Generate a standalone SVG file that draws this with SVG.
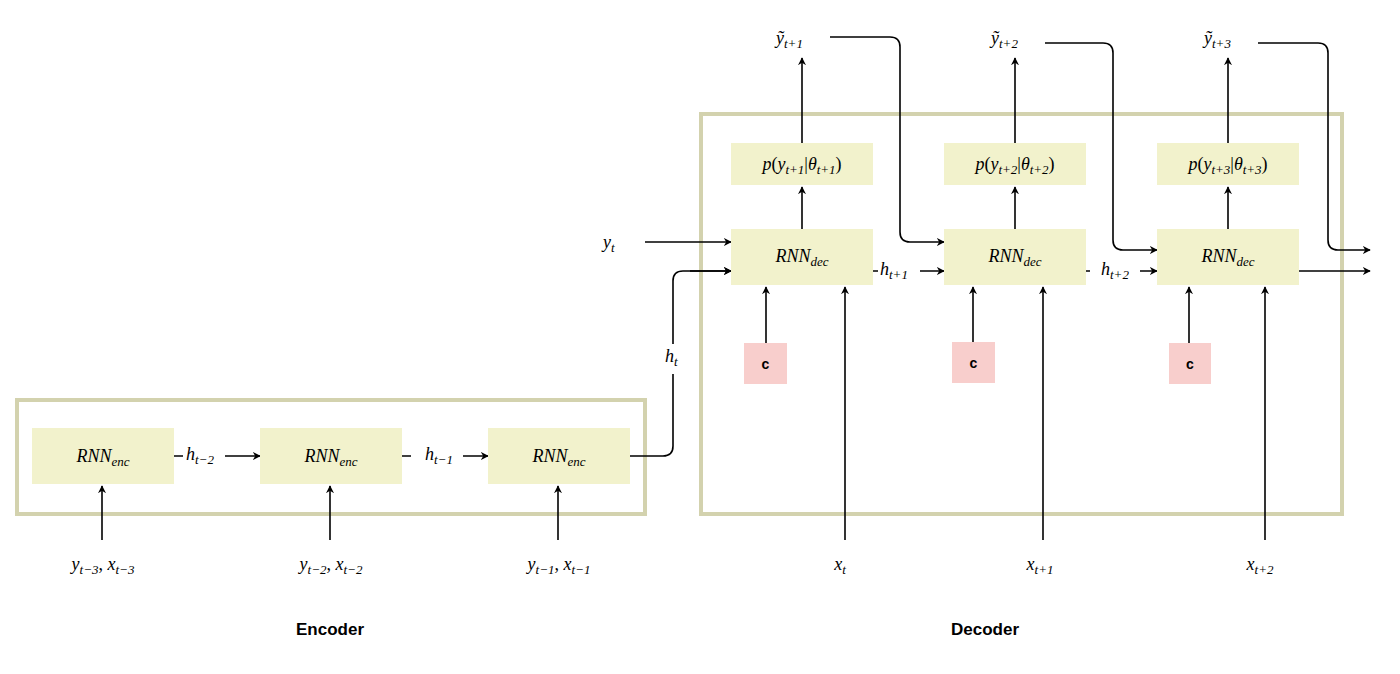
<svg xmlns="http://www.w3.org/2000/svg" width="1400" height="674" viewBox="0 0 1400 674">
<style>
.frame{fill:none;stroke:#d3d2ae;stroke-width:4}
.n{fill:#f2f2cc}
.c{fill:#f8cecc}
.e{fill:none;stroke:#000;stroke-width:1.6;marker-end:url(#a)}
.l{fill:none;stroke:#000;stroke-width:1.6}
.m{font-family:"Liberation Serif",serif;font-style:italic;font-size:18px;fill:#000}
.s{font-size:13px}
.u{font-style:normal}
.b{font-family:"Liberation Sans",Arial,sans-serif;font-weight:bold;font-size:17px}
.cc{font-family:"Liberation Sans",Arial,sans-serif;font-weight:bold;font-size:14px}
</style>
<defs><marker id="a" viewBox="0 0 10 10" refX="9" refY="5" markerWidth="8" markerHeight="8" orient="auto" markerUnits="userSpaceOnUse"><path d="M0,0 L10,5 L0,10 L3,5 z" fill="#000"/></marker></defs>
<rect class="frame" x="17" y="400" width="628" height="114"/>
<rect class="frame" x="701" y="114" width="641" height="400"/>
<g id="connectors">
<path class="e" d="M174,456 H260"/><path class="e" d="M402,456 H488"/>
<path class="l" d="M630,456 H663 Q673,456 673,446 V281 Q673,271 683,271 H731"/>
<path class="e" d="M673,271 H731" style="stroke:none"/>
<path class="e" d="M690,271 H731"/>
<path class="e" d="M645,242 H731"/>
<path class="e" d="M102,540 V486"/><path class="e" d="M330,540 V486"/><path class="e" d="M558,540 V486"/>
<path class="e" d="M873,271 H944"/><path class="e" d="M1086,271 H1157"/><path class="e" d="M1299,271 H1370"/>
<path class="e" d="M802,229 V187"/><path class="e" d="M1015,229 V187"/><path class="e" d="M1228,229 V187"/>
<path class="e" d="M802,143 V58"/><path class="e" d="M1015,143 V58"/><path class="e" d="M1228,143 V58"/>
<path class="e" d="M766,343 V287"/><path class="e" d="M973,342 V287"/><path class="e" d="M1189,343 V287"/>
<path class="e" d="M845,540 V287"/><path class="e" d="M1043,540 V287"/><path class="e" d="M1265,540 V287"/>
<path class="e" d="M830,37 H890 Q900,37 900,47 V232 Q900,242 910,242 H944"/>
<path class="e" d="M1045,43 H1103 Q1113,43 1113,53 V240 Q1113,250 1123,250 H1157"/>
<path class="e" d="M1258,43 H1318 Q1328,43 1328,53 V240 Q1328,250 1338,250 H1370"/>
</g>
<g id="enc1"><rect class="n" x="32" y="428" width="142" height="56"/><text class="m" x="103" y="462" text-anchor="middle">RNN<tspan class="s" dy="4">enc</tspan></text></g>
<g id="enc2"><rect class="n" x="260" y="428" width="142" height="56"/><text class="m" x="331" y="462" text-anchor="middle">RNN<tspan class="s" dy="4">enc</tspan></text></g>
<g id="enc3"><rect class="n" x="488" y="428" width="142" height="56"/><text class="m" x="559" y="462" text-anchor="middle">RNN<tspan class="s" dy="4">enc</tspan></text></g>
<g id="dec1"><rect class="n" x="731" y="229" width="142" height="56"/><text class="m" x="802" y="262" text-anchor="middle">RNN<tspan class="s" dy="4">dec</tspan></text></g>
<g id="dec2"><rect class="n" x="944" y="229" width="142" height="56"/><text class="m" x="1015" y="262" text-anchor="middle">RNN<tspan class="s" dy="4">dec</tspan></text></g>
<g id="dec3"><rect class="n" x="1157" y="229" width="142" height="56"/><text class="m" x="1228" y="262" text-anchor="middle">RNN<tspan class="s" dy="4">dec</tspan></text></g>
<g id="p1"><rect class="n" x="731" y="143" width="142" height="42"/><text class="m" x="802" y="170" text-anchor="middle">p<tspan class="u">(</tspan>y<tspan class="s" dy="4">t+1</tspan><tspan dy="-4" class="u">|</tspan>θ<tspan class="s" dy="4">t+1</tspan><tspan dy="-4" class="u">)</tspan></text></g>
<g id="p2"><rect class="n" x="944" y="143" width="142" height="42"/><text class="m" x="1015" y="170" text-anchor="middle">p<tspan class="u">(</tspan>y<tspan class="s" dy="4">t+2</tspan><tspan dy="-4" class="u">|</tspan>θ<tspan class="s" dy="4">t+2</tspan><tspan dy="-4" class="u">)</tspan></text></g>
<g id="p3"><rect class="n" x="1157" y="143" width="142" height="42"/><text class="m" x="1228" y="170" text-anchor="middle">p<tspan class="u">(</tspan>y<tspan class="s" dy="4">t+3</tspan><tspan dy="-4" class="u">|</tspan>θ<tspan class="s" dy="4">t+3</tspan><tspan dy="-4" class="u">)</tspan></text></g>
<g id="c1"><rect class="c" x="744" y="343" width="43" height="41"/><text class="cc" x="765.5" y="369" text-anchor="middle">c</text></g>
<g id="c2"><rect class="c" x="952" y="342" width="43" height="41"/><text class="cc" x="973.5" y="368" text-anchor="middle">c</text></g>
<g id="c3"><rect class="c" x="1169" y="343" width="42" height="41"/><text class="cc" x="1190" y="369" text-anchor="middle">c</text></g>
<g id="labels">
<rect x="183" y="446" width="42" height="22" fill="#fff"/><text class="m" x="186" y="460">h<tspan class="s" dy="4">t−2</tspan></text>
<rect x="411" y="446" width="52" height="22" fill="#fff"/><text class="m" x="425" y="460">h<tspan class="s" dy="4">t−1</tspan></text>
<rect x="663" y="344" width="22" height="30" fill="#fff"/><text class="m" x="665" y="362">h<tspan class="s" dy="4">t</tspan></text>
<rect x="878" y="261" width="42" height="26" fill="#fff"/><text class="m" x="880" y="275">h<tspan class="s" dy="4">t+1</tspan></text>
<rect x="1090" y="261" width="50" height="26" fill="#fff"/><text class="m" x="1101" y="275">h<tspan class="s" dy="4">t+2</tspan></text>
<text class="m" x="603" y="248">y<tspan class="s" dy="4">t</tspan></text>
<text class="m" x="776" y="44">ỹ<tspan class="s" dy="4">t+1</tspan></text>
<text class="m" x="991" y="44">ỹ<tspan class="s" dy="4">t+2</tspan></text>
<text class="m" x="1204" y="44">ỹ<tspan class="s" dy="4">t+3</tspan></text>
<text class="m" x="103" y="570" text-anchor="middle">y<tspan class="s" dy="4">t−3</tspan><tspan dy="-4" class="u">, </tspan>x<tspan class="s" dy="4">t−3</tspan></text>
<text class="m" x="331" y="570" text-anchor="middle">y<tspan class="s" dy="4">t−2</tspan><tspan dy="-4" class="u">, </tspan>x<tspan class="s" dy="4">t−2</tspan></text>
<text class="m" x="559" y="570" text-anchor="middle">y<tspan class="s" dy="4">t−1</tspan><tspan dy="-4" class="u">, </tspan>x<tspan class="s" dy="4">t−1</tspan></text>
<text class="m" x="840" y="570" text-anchor="middle">x<tspan class="s" dy="4">t</tspan></text>
<text class="m" x="1040" y="570" text-anchor="middle">x<tspan class="s" dy="4">t+1</tspan></text>
<text class="m" x="1260" y="570" text-anchor="middle">x<tspan class="s" dy="4">t+2</tspan></text>
<text class="b" x="330" y="635" text-anchor="middle">Encoder</text>
<text class="b" x="985" y="635" text-anchor="middle">Decoder</text>
</g>
</svg>
